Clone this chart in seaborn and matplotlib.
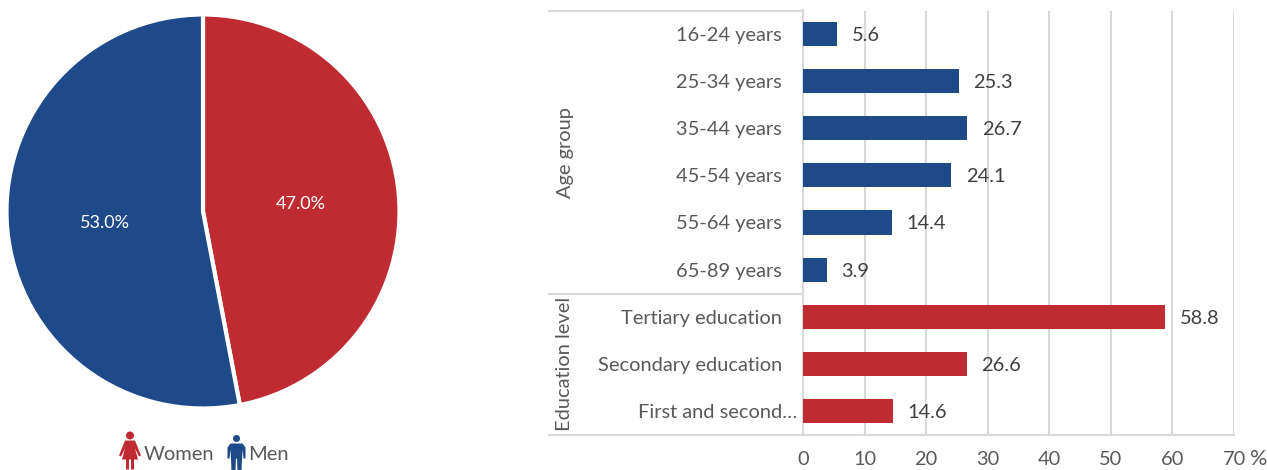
import matplotlib
matplotlib.use("Agg")
import matplotlib.pyplot as plt
from matplotlib.patches import Polygon, Circle
from matplotlib.transforms import ScaledTranslation
import seaborn as sns
import pandas as pd

gender_labels = ["Women", "Men"]
gender_values = [47.0, 53.0]
age_categories = ["16-24 years", "25-34 years", "35-44 years", "45-54 years", "55-64 years", "65-89 years"]
age_values = [5.6, 25.3, 26.7, 24.1, 14.4, 3.9]
edu_categories = ["Tertiary education", "Secondary education", "First and second…"]
edu_values = [58.8, 26.6, 14.6]
x_ticks = [0, 10, 20, 30, 40, 50, 60, 70]

BLUE, RED, GRID, TXT = "#1F4A8A", "#C02B32", "#D9D9D9", "#595959"
W, H = 1267, 470
FS = 14.4

sns.set_theme(style="white")
plt.rcParams["font.family"] = ["Lato", "DejaVu Sans"]
fig = plt.figure(figsize=(W / 100, H / 100), dpi=100)


def px_axes(left, top, right, bottom):
    return fig.add_axes([left / W, 1 - bottom / H, (right - left) / W, (bottom - top) / H])


# Pie
pie_ax = px_axes(6.5, 14.5, 399.5, 408.5)
_, _, pcts = pie_ax.pie(gender_values, colors=[RED, BLUE], startangle=90, counterclock=False, radius=1,
                        autopct="%.1f%%", pctdistance=0.5,
                        wedgeprops=dict(edgecolor="white", linewidth=3),
                        textprops=dict(color="white", fontsize=13))
pie_ax.set_xlim(-1, 1)
pie_ax.set_ylim(-1, 1)
pie_ax.set_aspect("auto")
for t in pcts:
    t.set_transform(t.get_transform() + ScaledTranslation(0, -2 / 100, fig.dpi_scale_trans))

# Bars
df = pd.DataFrame({
    "category": age_categories + edu_categories,
    "value": age_values + edu_values,
    "group": ["Age group"] * len(age_values) + ["Education level"] * len(edu_values),
})
ax = px_axes(803, 10.5, 1234, 434.5)
sns.barplot(data=df, y="category", x="value", hue="group", dodge=False, legend=False, saturation=1,
            palette={"Age group": BLUE, "Education level": RED}, width=0.51, linewidth=0,
            ax=ax, zorder=3)
ax.set_xlim(0, 70)
ax.set_ylim(len(df) - 0.5, -0.5)
ax.set_xlabel("")
ax.set_ylabel("")
ax.set_xticks(x_ticks)
ax.grid(axis="x", color=GRID, linewidth=1.5, zorder=0)
ax.grid(axis="y", visible=False)
for name, sp in ax.spines.items():
    sp.set_visible(name in ("left", "bottom"))
    sp.set_color(GRID)
    sp.set_linewidth(1.5)
ax.tick_params(axis="y", length=0, pad=15, labelsize=FS, labelcolor=TXT)
ax.tick_params(axis="x", length=0, pad=12, labelsize=FS, labelcolor=TXT)
ax.yaxis.get_major_ticks()[-1].set_pad(4)
for cont in ax.containers:
    vals = [b.get_width() for b in cont]
    labs = [f"{v:.1f}" if v > 0 else "" for v in vals]
    for t in ax.bar_label(cont, labels=labs, padding=10.5, fontsize=FS, color="#404040"):
        t.set_va("center_baseline")

# Group brackets in an overlay with pixel coordinates
ov = fig.add_axes([0, 0, 1, 1], facecolor="none")
ov.set_xlim(0, W)
ov.set_ylim(H, 0)
ov.axis("off")
for y in (10.5, 293.5, 434.5):
    ov.plot([548, 803], [y, y], color=GRID, lw=1.5, solid_capstyle="butt")
ov.text(566, 152, "Age group", rotation=90, ha="center", va="center", fontsize=FS, color=TXT)
ov.text(564, 364, "Education level", rotation=90, ha="center", va="center", fontsize=FS, color=TXT)
ov.text(1259, 459, "%", ha="center", va="center", fontsize=15.5, color=TXT)


def woman(cx, top, c):
    ov.add_patch(Circle((cx, top + 4), 4, color=c, lw=0))
    ov.add_patch(Polygon([(cx - 5, top + 9), (cx + 5, top + 9), (cx + 11, top + 24), (cx + 9, top + 25),
                          (cx + 5, top + 17), (cx + 8, top + 28), (cx + 4, top + 28), (cx + 4, top + 38),
                          (cx + 1, top + 38), (cx + 1, top + 28), (cx - 1, top + 28), (cx - 1, top + 38),
                          (cx - 4, top + 38), (cx - 4, top + 28), (cx - 8, top + 28), (cx - 5, top + 17),
                          (cx - 9, top + 25), (cx - 11, top + 24)], closed=True, color=c, lw=0))


def man(cx, top, c):
    ov.add_patch(Circle((cx, top + 4), 3.5, color=c, lw=0))
    ov.add_patch(Polygon([(cx - 6, top + 9), (cx + 6, top + 9), (cx + 9, top + 13), (cx + 9, top + 24),
                          (cx + 7, top + 24), (cx + 6, top + 15), (cx + 5, top + 36), (cx + 1, top + 36),
                          (cx + 0.5, top + 24), (cx - 0.5, top + 24), (cx - 1, top + 36), (cx - 5, top + 36),
                          (cx - 6, top + 15), (cx - 7, top + 24), (cx - 9, top + 24), (cx - 9, top + 13)],
                         closed=True, color=c, lw=0))


woman(130, 431.5, RED)
man(236.5, 434.5, BLUE)
ov.text(144, 455, gender_labels[0], ha="left", va="center", fontsize=14.5, color=TXT)
ov.text(248, 455, gender_labels[1], ha="left", va="center", fontsize=14.5, color=TXT)

fig.savefig("out.png", dpi=100, facecolor="white")
